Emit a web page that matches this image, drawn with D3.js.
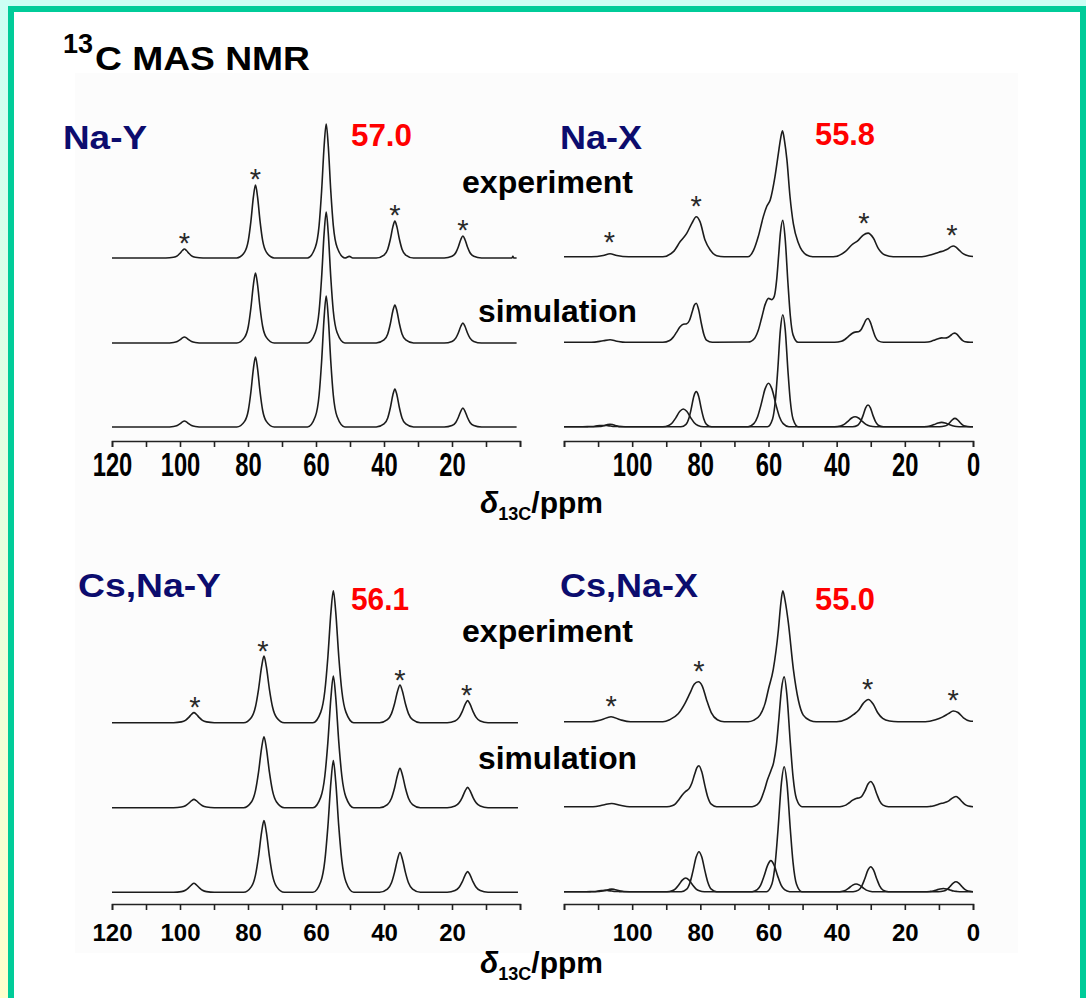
<!DOCTYPE html>
<html><head><meta charset="utf-8">
<script src="https://cdn.jsdelivr.net/npm/d3@7"></script>
<style>
html,body{margin:0;padding:0;background:#fff;}
svg{display:block;}
text{font-family:"Liberation Sans",Arial,Helvetica,sans-serif;}
</style></head><body>
<svg id="c" width="1086" height="998"></svg>
<script>
// ---------- axis ticks ----------
const tickValuesPpm = [120,110,100,90,80,70,60,50,40,30,20,10,0];
const leftTickLabels = [120,100,80,60,40,20];
const rightTickLabels = [100,80,60,40,20,0];

// ---------- Na-Y  (ppm, intensity % of main experimental peak) ----------
const naY_exp = [[120,0],[104.2,0],[101.9,0.5],[100.8,1.6],[100.05,3.4],[99.3,5.6],[98.7,6.7],[98.1,5.6],[97.35,3.4],[96.6,1.6],[95.5,0.5],[93.2,0],
[83.3,0],[81,4.4],[79.9,13.1],[79.15,27.3],[78.4,45.8],[77.8,54.5],[77.2,45.8],[76.45,27.3],[75.7,13.1],[74.6,4.4],[72.3,0],
[62.5,0],[60.2,8],[59.1,24],[58.35,50],[57.6,84],[57,100],[56.4,84],[55.65,50],[54.9,24],[53.8,8],[51.5,0],[50.2,1.2],[49.2,0],
[42.3,0],[40,2.2],[38.9,6.6],[38.15,13.8],[37.4,23.2],[36.8,27.6],[36.2,23.2],[35.45,13.8],[34.7,6.6],[33.6,2.2],[31.3,0],
[22.3,0],[20,1.3],[18.9,3.9],[18.15,8.2],[17.4,13.8],[16.8,16.4],[16.2,13.8],[15.45,8.2],[14.7,3.9],[13.6,1.3],[11.3,0],[2.4,0],[2.1,1.2],[1.8,0],[1,0]];
const naY_sim = [[120,0],[104.2,0],[101.9,0.4],[100.8,1.1],[100.05,2.3],[99.3,3.8],[98.7,4.5],[98.1,3.8],[97.35,2.3],[96.6,1.1],[95.5,0.4],[93.2,0],
[83.3,0],[81,4.2],[79.9,12.5],[79.15,26.1],[78.4,43.8],[77.8,52.2],[77.2,43.8],[76.45,26.1],[75.7,12.5],[74.6,4.2],[72.3,0],
[62.5,0],[60.2,7.8],[59.1,23.5],[58.35,48.9],[57.6,82.2],[57,97.8],[56.4,82.2],[55.65,48.9],[54.9,23.5],[53.8,7.8],[51.5,0],
[42.3,0],[40,2.3],[38.9,6.8],[38.15,14.2],[37.4,23.9],[36.8,28.4],[36.2,23.9],[35.45,14.2],[34.7,6.8],[33.6,2.3],[31.3,0],
[22.3,0],[20,1.2],[18.9,3.6],[18.15,7.5],[17.4,12.5],[16.8,14.9],[16.2,12.5],[15.45,7.5],[14.7,3.6],[13.6,1.2],[11.3,0],[1,0]];
const naY_fit = [[120,0],[104.2,0],[101.9,0.4],[100.8,1.1],[100.05,2.3],[99.3,3.8],[98.7,4.5],[98.1,3.8],[97.35,2.3],[96.6,1.1],[95.5,0.4],[93.2,0],
[83.3,0],[81,4.2],[79.9,12.5],[79.15,26.1],[78.4,43.8],[77.8,52.2],[77.2,43.8],[76.45,26.1],[75.7,12.5],[74.6,4.2],[72.3,0],
[62.5,0],[60.2,7.8],[59.1,23.5],[58.35,48.9],[57.6,82.2],[57,97.8],[56.4,82.2],[55.65,48.9],[54.9,23.5],[53.8,7.8],[51.5,0],
[42.3,0],[40,2.3],[38.9,6.8],[38.15,14.2],[37.4,23.9],[36.8,28.4],[36.2,23.9],[35.45,14.2],[34.7,6.8],[33.6,2.3],[31.3,0],
[22.3,0],[20,1.1],[18.9,3.4],[18.15,7.1],[17.4,11.9],[16.8,14.2],[16.2,11.9],[15.45,7.1],[14.7,3.4],[13.6,1.1],[11.3,0],[1,0]];
const naY_stars = [[98.7,6.7],[77.8,54.5],[36.8,27.6],[16.8,16.4]];

// ---------- Na-X ----------
const naX_exp = [[120,0],[112,0],[108.5,1],[106.5,2.4],[104.5,1],[101,0],
[91,0],[87.9,4],[85.9,12],[84,18.5],[82.5,26.5],[81.2,31.7],[80.1,27.8],[78.6,13],[77.1,5.3],[75.2,0.8],[73,0],
[66,0],[64.4,5],[63,16],[61.5,32],[60.5,40],[59.5,45],[58.1,63.5],[57.1,82],[56.5,93],[55.9,100],[55.3,92],[54.6,77],[53.7,48],[52.7,26],[51.2,10.6],[48.8,1.3],[47,0],
[41,0],[37.5,4],[35.6,9.3],[33.6,13.2],[32.2,17.2],[30.8,18.7],[29.2,14.6],[27.8,6.6],[25.8,1.3],[23.4,0],
[15,0],[12,1.8],[10,3.6],[8.5,4.8],[7.2,6.4],[6.4,8],[5.8,8.5],[5,7.6],[4,5],[2.8,2.2],[1.2,0.6],[0,0.2]];
const naX_sim = [[120,0],[112,0],[108.5,1.2],[106.5,2],[104.5,0.9],[102,0],
[91,0],[89,1.4],[88,3.9],[87,7.9],[86,12.1],[85,14.3],[84,14.7],[83.2,17.3],[82.4,24],[81.8,29.3],[81.2,31],[80.5,25.9],[79.7,14.9],[79,6.6],[78.2,1.8],[76.5,0],
[66,0.2],[64,3.5],[63,9.5],[62,19.5],[61,29.9],[60,34.9],[59,33.9],[58.3,36.5],[57.6,49.7],[57,69.8],[56.5,86.8],[55.8,96.8],[55.1,81.9],[54.3,47.3],[53.6,21.1],[52.8,5.9],[51.3,0],
[40.6,0],[38.6,0.8],[37.6,2.2],[36.6,4.5],[35.6,6.8],[34.6,8.1],[33.6,8.4],[32.8,10.2],[32,14.5],[31.4,17.8],[30.8,18.9],[30.1,15.8],[29.3,9.1],[28.6,4],[27.8,1.1],[26.3,0],
[15.2,0],[13.2,0.3],[12.2,0.9],[11.2,1.9],[10.2,2.9],[9.2,3.5],[8.2,3.4],[7.3,4],[6.5,5.6],[5.9,6.9],[5.3,7.3],[4.6,6.1],[3.8,3.5],[3.1,1.6],[2.3,0.4],[0.8,0],[0,0]];
const naX_fitNarrow = [[120,0],[111,0],[109.5,0.1],[108.7,0.5],[108,1],[107.2,1.7],[106.5,2],[105.8,1.7],[105,1],[104.3,0.5],[103.5,0.1],[102,0],
[85.7,0],[84.2,1.9],[83.4,6.4],[82.7,13.9],[81.9,24.2],[81.2,27.8],[80.5,24.2],[79.7,13.9],[79,6.4],[78.2,1.9],[76.7,0],
[60.3,0],[58.8,6.2],[58,20.4],[57.3,44.5],[56.5,77.3],[55.8,88.9],[55.1,77.3],[54.3,44.5],[53.6,20.4],[52.8,6.2],[51.3,0],
[35.3,0],[33.8,1.2],[33,4],[32.3,8.6],[31.5,15],[30.8,17.2],[30.1,15],[29.3,8.6],[28.6,4],[27.8,1.2],[26.3,0],
[9.8,0],[8.3,0.5],[7.5,1.5],[6.8,3.3],[6,5.7],[5.3,6.6],[4.6,5.7],[3.8,3.3],[3.1,1.5],[2.3,0.5],[0.8,0],[0,0]];
const naX_fitBroad = [[120,0],[114.5,0],[112.8,0.1],[111.7,0.2],[110.7,0.5],[109.5,0.9],[108.5,1],[107.5,0.9],[106.3,0.5],[105.3,0.2],[104.2,0.1],[102.5,0],
[91,0],[89.3,1],[88.2,3.2],[87.2,7],[86,12.2],[85,14],[84,12.2],[82.8,7],[81.8,3.2],[80.7,1],[79,0],
[66,0],[64.3,2.4],[63.2,7.9],[62.2,17.3],[61,30],[60,34.5],[59,30],[57.8,17.3],[56.8,7.9],[55.7,2.4],[54,0],
[40.6,0],[38.9,0.6],[37.8,1.8],[36.8,4],[35.6,6.9],[34.6,7.9],[33.6,6.9],[32.4,4],[31.4,1.8],[30.3,0.6],[28.6,0],
[15.2,0],[13.5,0.2],[12.4,0.8],[11.4,1.7],[10.2,3],[9.2,3.4],[8.2,3],[7,1.7],[6,0.8],[4.9,0.2],[3.2,0],[0,0]];
const naX_stars = [[106.7,2.4],[81.2,31.7],[32.0,17.5],[6.2,8.5]];

// ---------- Cs,Na-Y ----------
const csY_exp = [[120,0],[101.9,0],[99.6,0.6],[98.4,1.8],[97.5,3.8],[96.6,6.4],[95.9,7.6],[95.2,6.4],[94.3,3.8],[93.4,1.8],[92.2,0.6],[89.9,0],
[81.3,0],[79,4],[77.8,12.1],[76.9,25.3],[76,42.4],[75.3,50.5],[74.6,42.4],[73.7,25.3],[72.8,12.1],[71.6,4],[69.3,0],
[60.9,0],[58.6,8],[57.4,24],[56.5,50],[55.6,84],[54.9,100],[54.2,84],[53.3,50],[52.4,24],[51.2,8],[48.9,0],
[41.3,0],[39,2.3],[37.8,6.9],[36.9,14.3],[36,24],[35.3,28.6],[34.6,24],[33.7,14.3],[32.8,6.9],[31.6,2.3],[29.3,0],
[21.4,0],[19.1,1.3],[17.9,4],[17,8.4],[16.1,14],[15.4,16.7],[14.7,14],[13.8,8.4],[12.9,4],[11.7,1.3],[9.4,0],[0.6,0]];
const csY_sim = [[120,0],[101.9,0],[99.6,0.5],[98.4,1.5],[97.5,3.2],[96.6,5.3],[95.9,6.3],[95.2,5.3],[94.3,3.2],[93.4,1.5],[92.2,0.5],[89.9,0],
[81.3,0],[79,4.3],[77.8,12.9],[76.9,26.9],[76,45.2],[75.3,53.8],[74.6,45.2],[73.7,26.9],[72.8,12.9],[71.6,4.3],[69.3,0],
[60.9,0],[58.6,8],[57.4,24],[56.5,49.9],[55.6,83.8],[54.9,99.8],[54.2,83.8],[53.3,49.9],[52.4,24],[51.2,8],[48.9,0],
[41.3,0],[39,2.4],[37.8,7.2],[36.9,14.9],[36,25],[35.3,29.8],[34.6,25],[33.7,14.9],[32.8,7.2],[31.6,2.4],[29.3,0],
[21.4,0],[19.1,1.2],[17.9,3.7],[17,7.7],[16.1,12.9],[15.4,15.4],[14.7,12.9],[13.8,7.7],[12.9,3.7],[11.7,1.2],[9.4,0],[0.6,0]];
const csY_fit = [[120,0],[101.9,0],[99.6,0.5],[98.4,1.6],[97.5,3.4],[96.6,5.7],[95.9,6.8],[95.2,5.7],[94.3,3.4],[93.4,1.6],[92.2,0.5],[89.9,0],
[81.3,0],[79,4.3],[77.8,13],[76.9,27.2],[76,45.6],[75.3,54.3],[74.6,45.6],[73.7,27.2],[72.8,13],[71.6,4.3],[69.3,0],
[60.9,0],[58.6,8],[57.4,24],[56.5,49.9],[55.6,83.8],[54.9,99.8],[54.2,83.8],[53.3,49.9],[52.4,24],[51.2,8],[48.9,0],
[41.3,0],[39,2.4],[37.8,7.2],[36.9,15.1],[36,25.3],[35.3,30.1],[34.6,25.3],[33.7,15.1],[32.8,7.2],[31.6,2.4],[29.3,0],
[21.4,0],[19.1,1.3],[17.9,3.8],[17,7.9],[16.1,13.2],[15.4,15.7],[14.7,13.2],[13.8,7.9],[12.9,3.8],[11.7,1.3],[9.4,0],[0.6,0]];
const csY_stars = [[95.6,7.6],[75.6,50.5],[35.3,28.6],[15.7,16.7]];

// ---------- Cs,Na-X ----------
const csX_exp = [[120,0],[112,0],[109,1.5],[106.2,3.8],[103.5,1.5],[100.5,0],
[91,0],[89,1.5],[86.5,6],[84.5,14],[83,22],[81.8,28.5],[80.6,30.5],[79.4,27],[78.2,17],[76.8,7],[75,1.5],[73,0],
[66,0],[64.4,1],[62.5,5],[61,14],[60,25],[58.6,40],[57.1,70],[56.4,90],[55.8,100],[55.1,92],[54.2,76],[52.7,40],[51.2,16],[49.8,5],[47.8,1],[46,0],
[40,0],[37,2],[35,5.5],[33.5,9],[32.2,14],[30.7,17],[29.3,13.5],[28,7],[26.5,2.5],[24.5,0.5],[22,0],
[14,0],[11,1.5],[9,3.5],[7.2,6.2],[5.8,8.2],[4.4,7],[2.8,3],[1,0.6],[0,0.3]];
const csX_sim = [[120,0],[111.5,0],[108.5,1.3],[106,2.5],[103.5,1.1],[100.8,0],
[89.8,0],[88.3,0.7],[87.3,2.2],[86.3,5.3],[85.3,9],[84.3,11.7],[83.3,13.8],[82.5,17.9],[81.7,24.5],[81,29.8],[80.4,31.3],[79.6,26.8],[78.6,15.3],[77.8,7.2],[76.8,1.9],[75.2,0],
[64.8,0],[63.3,1.5],[62.3,5],[61.3,11.9],[60.3,20.5],[59.3,27.5],[58.5,33.7],[57.7,46.6],[57,65.8],[56.2,89.4],[55.4,99.1],[54.6,85.4],[53.6,48.7],[52.8,22.9],[51.8,6],[50.2,0],
[39.8,0],[38.3,0.4],[37.3,1.2],[36.3,3],[35.3,5],[34.3,6.3],[33.3,6.8],[32.5,8.4],[31.7,12],[30.8,17.3],[30,19.2],[29.2,16.6],[28.2,9.5],[27.4,4.5],[26.4,1.2],[24.8,0],
[14.2,0],[12.7,0.2],[11.7,0.5],[10.7,1.3],[9.7,2.2],[8.7,2.9],[7.8,3.6],[7,4.7],[6.2,6.4],[5,7.8],[4.2,6.6],[3.2,3.8],[2.4,1.8],[1.4,0.5],[0,0]];
const csX_fitNarrow = [[120,0],[111.2,0],[109.6,0.1],[108.6,0.5],[107.8,1],[106.8,1.7],[106,2],[105.2,1.7],[104.2,1],[103.4,0.5],[102.4,0.1],[100.8,0],
[85.6,0],[84,1.9],[83,7.2],[82.2,15.3],[81.2,26.6],[80.4,30.5],[79.6,26.6],[78.6,15.3],[77.8,7.2],[76.8,1.9],[75.2,0],
[60.6,0],[59,5.9],[58,22.4],[57.2,47.7],[56.2,83.2],[55.4,95.4],[54.6,83.2],[53.6,47.7],[52.8,22.4],[51.8,5.9],[50.2,0],
[35.2,0],[33.6,1.2],[32.6,4.5],[31.8,9.5],[30.8,16.6],[30,19],[29.2,16.6],[28.2,9.5],[27.4,4.5],[26.4,1.2],[24.8,0],
[10.2,0],[8.6,0.5],[7.6,1.8],[6.8,3.8],[5.8,6.6],[5,7.6],[4.2,6.6],[3.2,3.8],[2.4,1.8],[1.4,0.5],[0,0]];
const csX_fitBroad = [[120,0],[113.5,0],[112,0.1],[111,0.2],[110,0.5],[109,0.8],[108,1],[107,0.8],[106,0.5],[105,0.2],[104,0.1],[102.5,0],
[89.8,0],[88.3,0.7],[87.3,2.2],[86.3,5.3],[85.3,8.8],[84.3,10.5],[83.3,8.8],[82.3,5.3],[81.3,2.2],[80.3,0.7],[78.8,0],
[64.8,0],[63.3,1.5],[62.3,5],[61.3,11.9],[60.3,19.9],[59.3,23.7],[58.3,19.9],[57.3,11.9],[56.3,5],[55.3,1.5],[53.8,0],
[39.8,0],[38.3,0.4],[37.3,1.2],[36.3,3],[35.3,5],[34.3,5.9],[33.3,5],[32.3,3],[31.3,1.2],[30.3,0.4],[28.8,0],
[14.2,0],[12.7,0.2],[11.7,0.5],[10.7,1.3],[9.7,2.1],[8.7,2.5],[7.7,2.1],[6.7,1.3],[5.7,0.5],[4.7,0.2],[3.2,0],[0,0]];
const csX_stars = [[106.2,3.8],[80.4,30.5],[30.9,17],[5.8,8.2]];

// ---------- labels ----------
const panelTitles = ["Na-Y","Na-X","Cs,Na-Y","Cs,Na-X"];
const shiftLabels = ["57.0","55.8","56.1","55.0"];
const rowLabels = ["experiment","simulation"];

// ================= drawing =================
const svg = d3.select("#c");
const FONT = "'Liberation Sans', Arial, Helvetica, sans-serif";
const defs = svg.append("defs");
const gr = defs.append("linearGradient").attr("id","side").attr("x1",0).attr("y1",0).attr("x2",0).attr("y2",1);
gr.append("stop").attr("offset","0%").attr("stop-color","#ccfff4");
gr.append("stop").attr("offset","100%").attr("stop-color","#ffffcc");

svg.append("rect").attr("width",1086).attr("height",998).attr("fill","#fff");
svg.append("rect").attr("width",8).attr("height",998).attr("fill","url(#side)");
svg.append("rect").attr("width",1086).attr("height",6).attr("fill","#ccfff4");
svg.append("rect").attr("x",8).attr("y",6).attr("width",1078).attr("height",6).attr("fill","#00cc99");
svg.append("rect").attr("x",8).attr("y",6).attr("width",6).attr("height",992).attr("fill","#00cc99");
svg.append("rect").attr("x",1080).attr("y",6).attr("width",6).attr("height",992).attr("fill","#00cc99");
svg.append("rect").attr("x",75).attr("y",73).attr("width",943).attr("height",880).attr("fill","#fcfcfc");

const panels = [
  {traces:[[naY_exp,0],[naY_sim,1],[naY_fit,2]], base:[258,343,427], H:134, r:[112,520], axisY:441,
   labels:leftTickLabels, labY:476, labFs:33, labSx:0.72, stars:naY_stars, gap:12.5},
  {traces:[[naX_exp,0],[naX_sim,1],[naX_fitNarrow,2],[naX_fitBroad,2]], base:[256.7,342.3,426.7], H:126, r:[564,973], axisY:441,
   labels:rightTickLabels, labY:476, labFs:33, labSx:0.72, stars:naX_stars, gap:18},
  {traces:[[csY_exp,0],[csY_sim,1],[csY_fit,2]], base:[722.7,807.7,892.3], H:132, r:[112,520], axisY:904,
   labels:leftTickLabels, labY:941, labFs:24, labSx:1, stars:csY_stars, gap:12},
  {traces:[[csX_exp,0],[csX_sim,1],[csX_fitNarrow,2],[csX_fitBroad,2]], base:[721.7,806.7,891.7], H:131, r:[564,973], axisY:904,
   labels:rightTickLabels, labY:941, labFs:24, labSx:1, stars:csX_stars, gap:17.5}
];

panels.forEach(p => {
  const x = d3.scaleLinear().domain([120,0]).range(p.r);
  const ys = p.base.map(b => d3.scaleLinear().domain([0,100]).range([b, b - p.H]));
  const g = svg.append("g");
  p.traces.forEach(([data,row]) => {
    const line = d3.line().x(d => x(d[0])).y(d => ys[row](d[1])).curve(d3.curveMonotoneX);
    g.append("path").attr("d", line(data)).attr("fill","none")
      .attr("stroke","#1c1c1c").attr("stroke-width",1.6).attr("stroke-linejoin","round");
  });
  // asterisks above spinning sidebands
  const sfs = 29;
  g.selectAll("text.star").data(p.stars).join("text").attr("class","star")
    .attr("x", d => x(d[0])).attr("y", d => ys[0](d[1]) - p.gap + 0.58*sfs)
    .attr("text-anchor","middle").attr("font-size",sfs).attr("fill","#2a2a2a")
    .attr("font-family",FONT).text("*");
  // axis
  const ax = d3.axisBottom(x).tickValues(tickValuesPpm).tickSize(6).tickSizeOuter(6)
    .tickFormat(d => p.labels.includes(d) ? String(d) : "");
  const ag = svg.append("g").attr("transform",`translate(0,${p.axisY})`).call(ax);
  ag.attr("font-family",FONT);
  ag.select(".domain").attr("stroke","#222").attr("stroke-width",1.6);
  ag.selectAll(".tick line").attr("stroke","#222").attr("stroke-width",1.6);
  ag.selectAll(".tick text").attr("fill","#000").attr("font-weight","bold")
    .attr("font-size",p.labFs).attr("y",p.labY - p.axisY).attr("dy",0)
    .attr("transform",`scale(${p.labSx},1)`);
});

function txt(x,y,s,fs,fill,len){
  const t = svg.append("text").attr("x",x).attr("y",y).attr("font-size",fs)
    .attr("font-weight","bold").attr("fill",fill).attr("font-family",FONT).text(s);
  if(len) t.attr("textLength",len).attr("lengthAdjust","spacingAndGlyphs");
  return t;
}
// heading
txt(63,53,"13",27,"#000");
txt(95,70,"C MAS NMR",33,"#000",215);
// panel titles
const navy = "#0c0c6e";
txt(63,149,panelTitles[0],33,navy,84);
txt(560,149,panelTitles[1],33,navy,82);
txt(78,597,panelTitles[2],33,navy,143);
txt(560,597,panelTitles[3],33,navy,138);
txt(351,146,shiftLabels[0],32,"#ff0000",61);
txt(815,145,shiftLabels[1],32,"#ff0000",60);
txt(351,610,shiftLabels[2],32,"#ff0000",58);
txt(815,610,shiftLabels[3],32,"#ff0000",60);
txt(462,193,rowLabels[0],32,"#000",171);
txt(478,322,rowLabels[1],32,"#000",159);
txt(462,642,rowLabels[0],32,"#000",171);
txt(478,769,rowLabels[1],32,"#000",159);
// axis titles
[513,973].forEach(by => {
  const t = svg.append("text").attr("x",480).attr("y",by).attr("font-family",FONT)
    .attr("font-weight","bold").attr("fill","#000");
  t.append("tspan").attr("font-size",30).attr("font-style","italic").text("δ");
  t.append("tspan").attr("font-size",18).attr("dy",7).text("13C");
  t.append("tspan").attr("font-size",30).attr("dy",-7).text("/ppm");
});
</script>
</body></html>
